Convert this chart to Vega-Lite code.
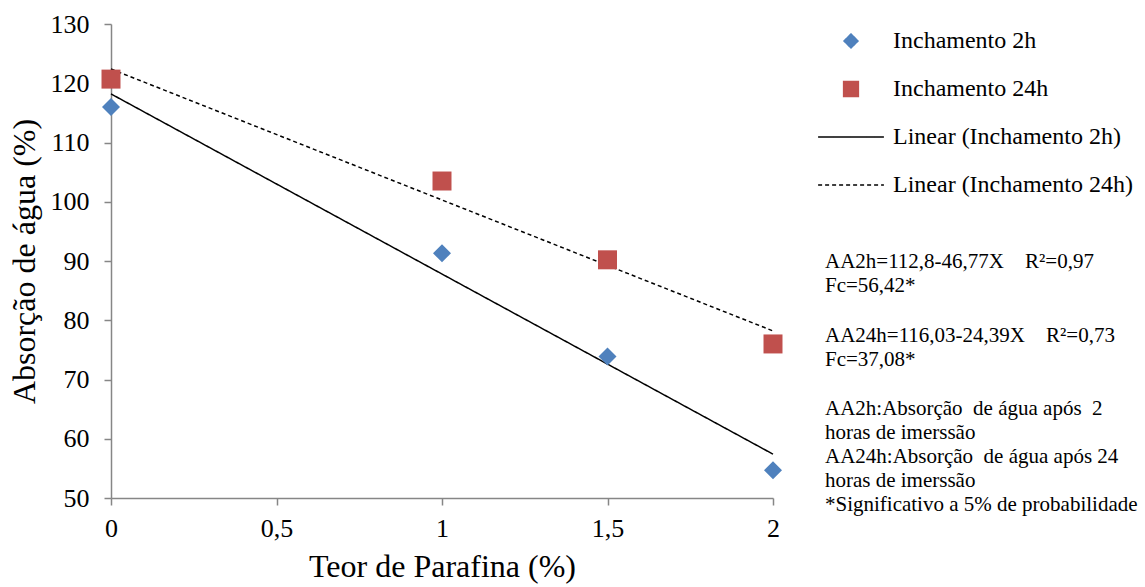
{
  "$schema": "https://vega.github.io/schema/vega-lite/v6.json",
  "width": 662,
  "height": 474,
  "autosize": {"type": "none"},
  "padding": {"left": 111, "top": 24, "right": 372, "bottom": 89},
  "background": "white",
  "config": {"view": {"stroke": null}, "font": "Times New Roman, Liberation Serif, serif"},
  "datasets": {
    "points": [
      {"x": 0, "y": 116.0, "series": "Inchamento 2h"},
      {"x": 1, "y": 91.3, "series": "Inchamento 2h"},
      {"x": 1.5, "y": 73.9, "series": "Inchamento 2h"},
      {"x": 2, "y": 54.7, "series": "Inchamento 2h"},
      {"x": 0, "y": 120.7, "series": "Inchamento 24h"},
      {"x": 1, "y": 103.5, "series": "Inchamento 24h"},
      {"x": 1.5, "y": 90.2, "series": "Inchamento 24h"},
      {"x": 2, "y": 76.0, "series": "Inchamento 24h"}
    ],
    "trend": [
      {"x": 0, "y": 118.2, "series": "Linear (Inchamento 2h)"},
      {"x": 2, "y": 57.4, "series": "Linear (Inchamento 2h)"},
      {"x": 0, "y": 122.4, "series": "Linear (Inchamento 24h)"},
      {"x": 2, "y": 78.2, "series": "Linear (Inchamento 24h)"}
    ],
    "note1": [{"note": "AA2h=112,8-46,77X\u00a0\u00a0\u00a0\u00a0R²=0,97\nFc=56,42*"}],
    "note2": [{"note": "AA24h=116,03-24,39X\u00a0\u00a0\u00a0\u00a0R²=0,73\nFc=37,08*"}],
    "note3": [{"note": "AA2h:Absorção\u00a0 de água após\u00a0 2\nhoras de imerssão\nAA24h:Absorção\u00a0 de água após 24\nhoras de imerssão\n*Significativo a 5% de probabilidade"}]
  },
  "layer": [
    {
      "data": {"name": "trend"},
      "mark": {"type": "line", "strokeWidth": 1.5},
      "encoding": {
        "x": {
          "field": "x", "type": "quantitative",
          "scale": {"domain": [0, 2], "nice": false, "zero": false},
          "title": "Teor de Parafina (%)",
          "axis": {
            "values": [0, 0.5, 1, 1.5, 2],
            "labelExpr": "replace(format(datum.value, '~g'), '.', ',')",
            "grid": false, "labelFlush": false,
            "domainColor": "#868686", "domainWidth": 1.5,
            "tickColor": "#868686", "tickWidth": 1.5, "tickSize": 7,
            "labelFont": "Times New Roman, Liberation Serif, serif", "labelFontSize": 26, "labelColor": "black", "labelPadding": 10,
            "titleFont": "Times New Roman, Liberation Serif, serif", "titleFontSize": 32, "titleFontWeight": "normal", "titleColor": "black", "titlePadding": 10
          }
        },
        "y": {
          "field": "y", "type": "quantitative",
          "scale": {"domain": [50, 130], "nice": false, "zero": false},
          "title": "Absorção de água (%)",
          "axis": {
            "values": [50, 60, 70, 80, 90, 100, 110, 120, 130],
            "grid": false,
            "domainColor": "#868686", "domainWidth": 1.5,
            "tickColor": "#868686", "tickWidth": 1.5, "tickSize": 7,
            "labelFont": "Times New Roman, Liberation Serif, serif", "labelFontSize": 26, "labelColor": "black", "labelPadding": 15,
            "titleFont": "Times New Roman, Liberation Serif, serif", "titleFontSize": 32, "titleFontWeight": "normal", "titleColor": "black", "titlePadding": 9
          }
        },
        "color": {
          "field": "series", "type": "nominal",
          "scale": {
            "domain": ["Inchamento 2h", "Inchamento 24h", "Linear (Inchamento 2h)", "Linear (Inchamento 24h)"],
            "range": ["#4F81BD", "#C0504D", "black", "black"]
          },
          "legend": {
            "title": null, "orient": "none", "legendX": 704, "legendY": -19, "padding": 0,
            "symbolSize": 4900, "symbolStrokeWidth": 1.5,
            "labelFont": "Times New Roman, Liberation Serif, serif", "labelFontSize": 24, "labelColor": "black", "labelLimit": 400, "labelOffset": 6,
            "rowPadding": -1.5,
            "encode": {
              "symbols": {
                "update": {
                  "fill": {"signal": "datum.value === 'Inchamento 2h' ? '#4F81BD' : datum.value === 'Inchamento 24h' ? '#C0504D' : 'transparent'"},
                  "stroke": {"signal": "indexof(datum.value, 'Linear') === 0 ? 'black' : 'transparent'"},
                  "strokeDash": {"signal": "datum.value === 'Linear (Inchamento 24h)' ? [4, 3] : [1, 0]"},
                  "strokeWidth": {"value": 1.5},
                  "size": {"value": 4900},
                  "opacity": {"value": 1}
                }
              }
            }
          }
        },
        "strokeDash": {
          "field": "series", "type": "nominal",
          "scale": {
            "domain": ["Inchamento 2h", "Inchamento 24h", "Linear (Inchamento 2h)", "Linear (Inchamento 24h)"],
            "range": [[1, 0], [1, 0], [1, 0], [4, 3]]
          },
          "legend": null
        }
      }
    },
    {
      "data": {"name": "points"},
      "mark": {"type": "point", "filled": true, "opacity": 1, "size": 8100},
      "encoding": {
        "x": {"field": "x", "type": "quantitative"},
        "y": {"field": "y", "type": "quantitative"},
        "color": {"field": "series", "type": "nominal"},
        "shape": {
          "field": "series", "type": "nominal",
          "scale": {
            "domain": ["Inchamento 2h", "Inchamento 24h", "Linear (Inchamento 2h)", "Linear (Inchamento 24h)"],
            "range": ["M-0.2,0L0,-0.2L0.2,0L0,0.2Z", "M-0.211,-0.211H0.211V0.211H-0.211Z", "M-0.94,0H0.94", "M-0.94,0H0.94"]
          },
          "legend": {
            "title": null, "orient": "none", "legendX": 704, "legendY": -19, "padding": 0,
            "symbolSize": 4900, "symbolStrokeWidth": 1.5,
            "labelFont": "Times New Roman, Liberation Serif, serif", "labelFontSize": 24, "labelColor": "black", "labelLimit": 400, "labelOffset": 6,
            "rowPadding": -1.5
          }
        }
      }
    },
    {
      "data": {"name": "note1"},
      "mark": {"type": "text", "align": "left", "baseline": "alphabetic", "font": "Times New Roman, Liberation Serif, serif", "fontSize": 21, "lineHeight": 24, "lineBreak": "\n", "color": "black"},
      "encoding": {
        "x": {"datum": 2.157, "type": "quantitative"},
        "y": {"datum": 88.8, "type": "quantitative"},
        "text": {"field": "note", "type": "nominal"}
      }
    },
    {
      "data": {"name": "note2"},
      "mark": {"type": "text", "align": "left", "baseline": "alphabetic", "font": "Times New Roman, Liberation Serif, serif", "fontSize": 21, "lineHeight": 24, "lineBreak": "\n", "color": "black"},
      "encoding": {
        "x": {"datum": 2.157, "type": "quantitative"},
        "y": {"datum": 76.3, "type": "quantitative"},
        "text": {"field": "note", "type": "nominal"}
      }
    },
    {
      "data": {"name": "note3"},
      "mark": {"type": "text", "align": "left", "baseline": "alphabetic", "font": "Times New Roman, Liberation Serif, serif", "fontSize": 21, "lineHeight": 24, "lineBreak": "\n", "color": "black"},
      "encoding": {
        "x": {"datum": 2.157, "type": "quantitative"},
        "y": {"datum": 64.0, "type": "quantitative"},
        "text": {"field": "note", "type": "nominal"}
      }
    }
  ]
}
